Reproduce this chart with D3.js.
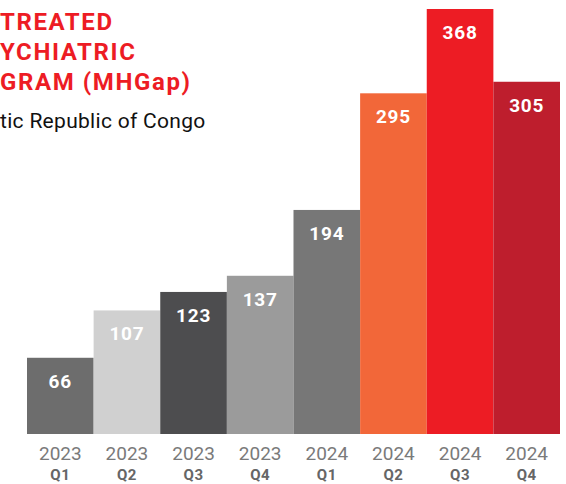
<!DOCTYPE html>
<html>
<head>
<script src="https://d3js.org/d3.v7.min.js"></script>
<style>
body { margin: 0; background: #fff; }
text { font-family: Roboto, "DejaVu Sans", sans-serif; }
</style>
</head>
<body>
<div id="chart"></div>
<script>
// Data
const years = ["2023", "2023", "2023", "2023", "2024", "2024", "2024", "2024"];
const quarters = ["Q1", "Q2", "Q3", "Q4", "Q1", "Q2", "Q3", "Q4"];
const values = [66, 107, 123, 137, 194, 295, 368, 305];
const colors = ["#6d6d6d", "#d0d0d0", "#4d4d4f", "#9b9b9b", "#777777", "#f26739", "#ed1c24", "#be1e2d"];
const titleLines = ["TREATED", "YCHIATRIC", "GRAM (MHGap)"];
const subtitle = "tic Republic of Congo";

const svg = d3.select("#chart")
  .append("svg")
  .attr("width", 566)
  .attr("height", 484);

const margin = { left: 27, right: 6, top: 9, bottom: 50 };
const width = 566 - margin.left - margin.right;
const height = 484 - margin.top - margin.bottom;

const keys = values.map((d, i) => i);
const x = d3.scaleBand()
  .domain(keys)
  .range([margin.left, margin.left + width])
  .padding(0);
const y = d3.scaleLinear()
  .domain([0, 368])
  .range([margin.top + height, margin.top]);

// Title
svg.append("g")
  .selectAll("text")
  .data(titleLines)
  .enter().append("text")
  .attr("x", 0)
  .attr("y", (d, i) => 30 + i * 30)
  .style("fill", "#ed1c24")
  .style("font-size", "24px")
  .style("font-weight", "bold")
  .style("letter-spacing", "1.6px")
  .text(d => d);

svg.append("text")
  .attr("x", 0)
  .attr("y", 128)
  .style("fill", "#111")
  .style("font-size", "21px")
  .style("letter-spacing", "0.3px")
  .text(subtitle);

// Bars
svg.append("g")
  .selectAll("rect")
  .data(values)
  .enter().append("rect")
  .attr("x", (d, i) => x(i))
  .attr("y", d => y(d))
  .attr("width", x.bandwidth())
  .attr("height", d => y(0) - y(d))
  .attr("fill", (d, i) => colors[i]);

// Value labels
svg.append("g")
  .selectAll("text")
  .data(values)
  .enter().append("text")
  .attr("x", (d, i) => x(i) + x.bandwidth() / 2)
  .attr("y", d => y(d) + 30)
  .attr("text-anchor", "middle")
  .style("fill", "#fff")
  .style("font-size", "19px")
  .style("font-weight", "bold")
  .style("letter-spacing", "0.8px")
  .text(d => d);

// Axis labels
const axis = svg.append("g")
  .attr("transform", `translate(0,${y(0)})`)
  .call(d3.axisBottom(x).tickSize(0).tickFormat(i => years[i]));
axis.select(".domain").remove();
axis.selectAll("text")
  .attr("dy", null)
  .attr("y", 26)
  .style("fill", "#7a7a7a")
  .style("font-size", "19px")
  .style("font-family", "Roboto, sans-serif");

svg.append("g")
  .selectAll("text")
  .data(quarters)
  .enter().append("text")
  .attr("x", (d, i) => x(i) + x.bandwidth() / 2)
  .attr("y", y(0) + 46)
  .attr("text-anchor", "middle")
  .style("fill", "#666")
  .style("font-size", "15px")
  .style("font-weight", "bold")
  .style("letter-spacing", "0.5px")
  .text(d => d);
</script>
</body>
</html>
